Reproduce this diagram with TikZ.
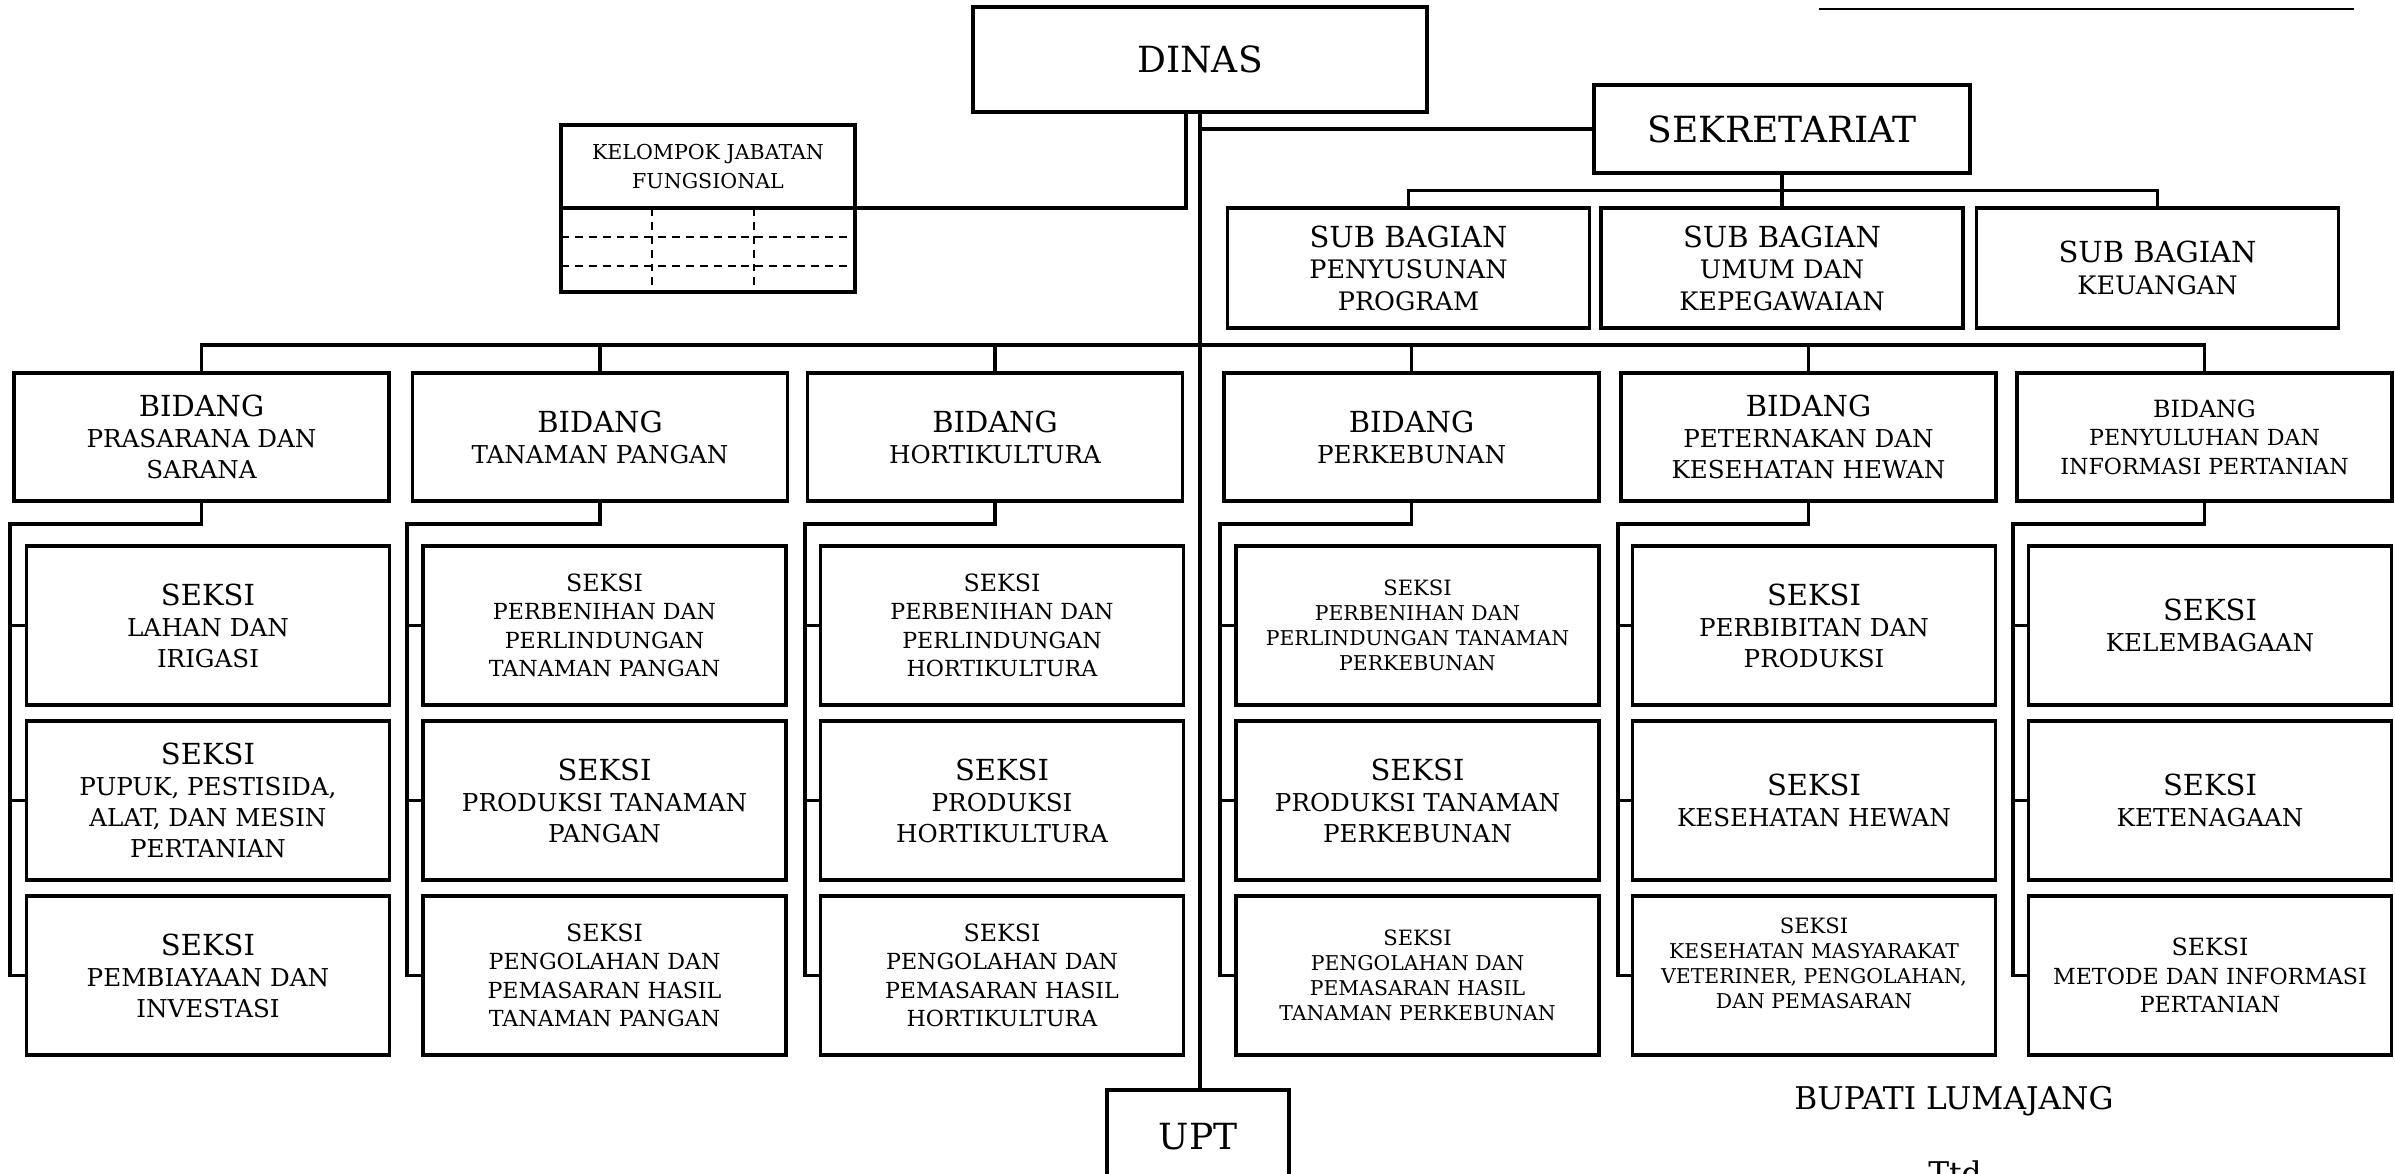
\documentclass[tikz,border=0pt]{standalone}
\usepackage{fontspec}
\setmainfont{DejaVu Serif}
\usetikzlibrary{calc}
\newcommand{\orgTitle}{\fontsize{20.5}{24}\selectfont}
\newcommand{\orgHead}{\fontsize{16.5}{17.6}\selectfont}
\newcommand{\orgLine}{\fontsize{14}{17.6}\selectfont}
\newcommand{\orgSbLine}{\fontsize{14.5}{17.9}\selectfont}
\newcommand{\orgSmallHd}{\fontsize{13.5}{16.2}\selectfont}
\newcommand{\orgSmall}{\fontsize{12.6}{16.2}\selectfont}
\newcommand{\orgTinyHd}{\fontsize{12}{14.2}\selectfont}
\newcommand{\orgTiny}{\fontsize{11.6}{14.2}\selectfont}
\newcommand{\orgKjf}{\fontsize{11.7}{17}\selectfont}
\newcommand{\orgBupati}{\fontsize{17.8}{20}\selectfont}

\begin{document}
\begin{tikzpicture}[x=0.2mm,y=-0.2mm,
 orgbox/.style={draw,line width=2.2pt,inner sep=0pt,outer sep=0pt,align=center},
 bid/.style={orgbox,minimum width=75mm,minimum height=25.6mm,font=\orgLine},
 bidsm/.style={bid,font=\orgSmall},
 seksi/.style={orgbox,minimum width=72.6mm,minimum height=31.8mm,font=\orgLine},
 seksism/.style={seksi,font=\orgSmall},
 seksitn/.style={seksi,font=\orgTiny},
 subbag/.style={orgbox,minimum width=72.4mm,minimum height=24mm,font=\orgSbLine},
 con/.style={line width=1.9pt},
 kjfdash/.style={line width=1.1pt,dash pattern=on 4.5pt off 3.4pt}]
\useasboundingbox (0,0) rectangle (2395,1174);

\node[orgbox,minimum width=90.8mm,minimum height=21mm,font=\orgTitle] (dinas) at (1200,59.5) {DINAS};
\node[orgbox,minimum width=75.2mm,minimum height=17.6mm,font=\orgTitle] (sekr) at (1782,129) {SEKRETARIAT};
\node[subbag] (sb1) at (1408.5,268) {{\orgHead SUB BAGIAN}\\PENYUSUNAN\\PROGRAM};
\node[subbag] (sb2) at (1782,268) {{\orgHead SUB BAGIAN}\\UMUM DAN\\KEPEGAWAIAN};
\node[subbag] (sb3) at (2157.5,268) {{\orgHead SUB BAGIAN}\\KEUANGAN};

\node[orgbox,minimum width=58.8mm,minimum height=16.6mm,font=\orgKjf] (kjf) at (708,166.5) {KELOMPOK JABATAN\\FUNGSIONAL};
\node[orgbox,minimum width=58.8mm,minimum height=16.8mm] (kjft) at (708,250) {};
\draw[kjfdash] (kjft.west |- 0,237) -- (kjft.east |- 0,237);
\draw[kjfdash] (kjft.west |- 0,266) -- (kjft.east |- 0,266);
\draw[kjfdash] (652,208) -- (652,292);
\draw[kjfdash] (754,208) -- (754,292);

\node[bid] (b1) at (201.5,437) {{\orgHead BIDANG}\\PRASARANA DAN\\SARANA};
\node[bid] (b2) at (600,437) {{\orgHead BIDANG}\\TANAMAN PANGAN};
\node[bid] (b3) at (995,437) {{\orgHead BIDANG}\\HORTIKULTURA};
\node[bid] (b4) at (1411.5,437) {{\orgHead BIDANG}\\PERKEBUNAN};
\node[bid] (b5) at (1808.5,437) {{\orgHead BIDANG}\\PETERNAKAN DAN\\KESEHATAN HEWAN};
\node[bidsm] (b6) at (2204.5,437) {{\orgSmallHd BIDANG}\\PENYULUHAN DAN\\INFORMASI PERTANIAN};

\node[seksi] (s11) at (208,625.5) {{\orgHead SEKSI}\\LAHAN DAN\\IRIGASI};
\node[seksi] (s12) at (208,800.5) {{\orgHead SEKSI}\\PUPUK, PESTISIDA,\\ALAT, DAN MESIN\\PERTANIAN};
\node[seksi] (s13) at (208,975.5) {{\orgHead SEKSI}\\PEMBIAYAAN DAN\\INVESTASI};

\node[seksism] (s21) at (604.5,625.5) {{\orgSmallHd SEKSI}\\PERBENIHAN DAN\\PERLINDUNGAN\\TANAMAN PANGAN};
\node[seksi] (s22) at (604.5,800.5) {{\orgHead SEKSI}\\PRODUKSI TANAMAN\\PANGAN};
\node[seksism] (s23) at (604.5,975.5) {{\orgSmallHd SEKSI}\\PENGOLAHAN DAN\\PEMASARAN HASIL\\TANAMAN PANGAN};

\node[seksism] (s31) at (1002,625.5) {{\orgSmallHd SEKSI}\\PERBENIHAN DAN\\PERLINDUNGAN\\HORTIKULTURA};
\node[seksi] (s32) at (1002,800.5) {{\orgHead SEKSI}\\PRODUKSI\\HORTIKULTURA};
\node[seksism] (s33) at (1002,975.5) {{\orgSmallHd SEKSI}\\PENGOLAHAN DAN\\PEMASARAN HASIL\\HORTIKULTURA};

\node[seksitn] (s41) at (1417.5,625.5) {{\orgTinyHd SEKSI}\\PERBENIHAN DAN\\PERLINDUNGAN TANAMAN\\PERKEBUNAN};
\node[seksi] (s42) at (1417.5,800.5) {{\orgHead SEKSI}\\PRODUKSI TANAMAN\\PERKEBUNAN};
\node[seksitn] (s43) at (1417.5,975.5) {{\orgTinyHd SEKSI}\\PENGOLAHAN DAN\\PEMASARAN HASIL\\TANAMAN PERKEBUNAN};

\node[seksi] (s51) at (1814,625.5) {{\orgHead SEKSI}\\PERBIBITAN DAN\\PRODUKSI};
\node[seksi] (s52) at (1814,800.5) {{\orgHead SEKSI}\\KESEHATAN HEWAN};
\node[seksitn] (s53) at (1814,975.5) {{\orgTinyHd SEKSI}\\KESEHATAN MASYARAKAT\\VETERINER, PENGOLAHAN,\\DAN PEMASARAN\\\mbox{}};

\node[seksi] (s61) at (2210,625.5) {{\orgHead SEKSI}\\KELEMBAGAAN};
\node[seksi] (s62) at (2210,800.5) {{\orgHead SEKSI}\\KETENAGAAN};
\node[seksism] (s63) at (2210,975.5) {{\orgSmallHd SEKSI}\\METODE DAN INFORMASI\\PERTANIAN};

\node[orgbox,minimum width=36.4mm,minimum height=18.8mm,font=\orgTitle] (upt) at (1198,1137) {UPT};
\node[font=\orgBupati,anchor=base] (bupati) at (1954,1109) {BUPATI LUMAJANG};
\node[font=\orgBupati,anchor=base] (ttd) at (1955,1184) {Ttd};
\draw[line width=1.1pt] (1819,9) -- (2354,9);

\draw[con] (dinas.south) -- (dinas.south |- upt.north);
\draw[con] ([xshift=-2.8mm]dinas.south) |- (kjf.south east);
\draw[con] (dinas.south |- sekr.west) -- (sekr.west);
\coordinate (sbj) at ($(sekr.south)!0.5!(sb2.north)$);
\draw[con] (sekr.south) -- (sb2.north);
\draw[con] (sb1.north) |- (sbj) -| (sb3.north);

\coordinate (bar) at (1200,345);
\draw[con] (b1.north) |- (bar) -| (b6.north);
\draw[con] (b2.north) |- (bar);
\draw[con] (b3.north) |- (bar);
\draw[con] (b4.north) |- (bar);
\draw[con] (b5.north) |- (bar);

\coordinate (r1) at (10,524);
\draw[con] (b1.south) |- (r1) |- (s13.west);
\draw[con] (r1 |- s11.west) -- (s11.west);
\draw[con] (r1 |- s12.west) -- (s12.west);
\coordinate (r2) at (407,524);
\draw[con] (b2.south) |- (r2) |- (s23.west);
\draw[con] (r2 |- s21.west) -- (s21.west);
\draw[con] (r2 |- s22.west) -- (s22.west);
\coordinate (r3) at (805,524);
\draw[con] (b3.south) |- (r3) |- (s33.west);
\draw[con] (r3 |- s31.west) -- (s31.west);
\draw[con] (r3 |- s32.west) -- (s32.west);
\coordinate (r4) at (1220,524);
\draw[con] (b4.south) |- (r4) |- (s43.west);
\draw[con] (r4 |- s41.west) -- (s41.west);
\draw[con] (r4 |- s42.west) -- (s42.west);
\coordinate (r5) at (1618,524);
\draw[con] (b5.south) |- (r5) |- (s53.west);
\draw[con] (r5 |- s51.west) -- (s51.west);
\draw[con] (r5 |- s52.west) -- (s52.west);
\coordinate (r6) at (2013,524);
\draw[con] (b6.south) |- (r6) |- (s63.west);
\draw[con] (r6 |- s61.west) -- (s61.west);
\draw[con] (r6 |- s62.west) -- (s62.west);
\end{tikzpicture}
\end{document}
